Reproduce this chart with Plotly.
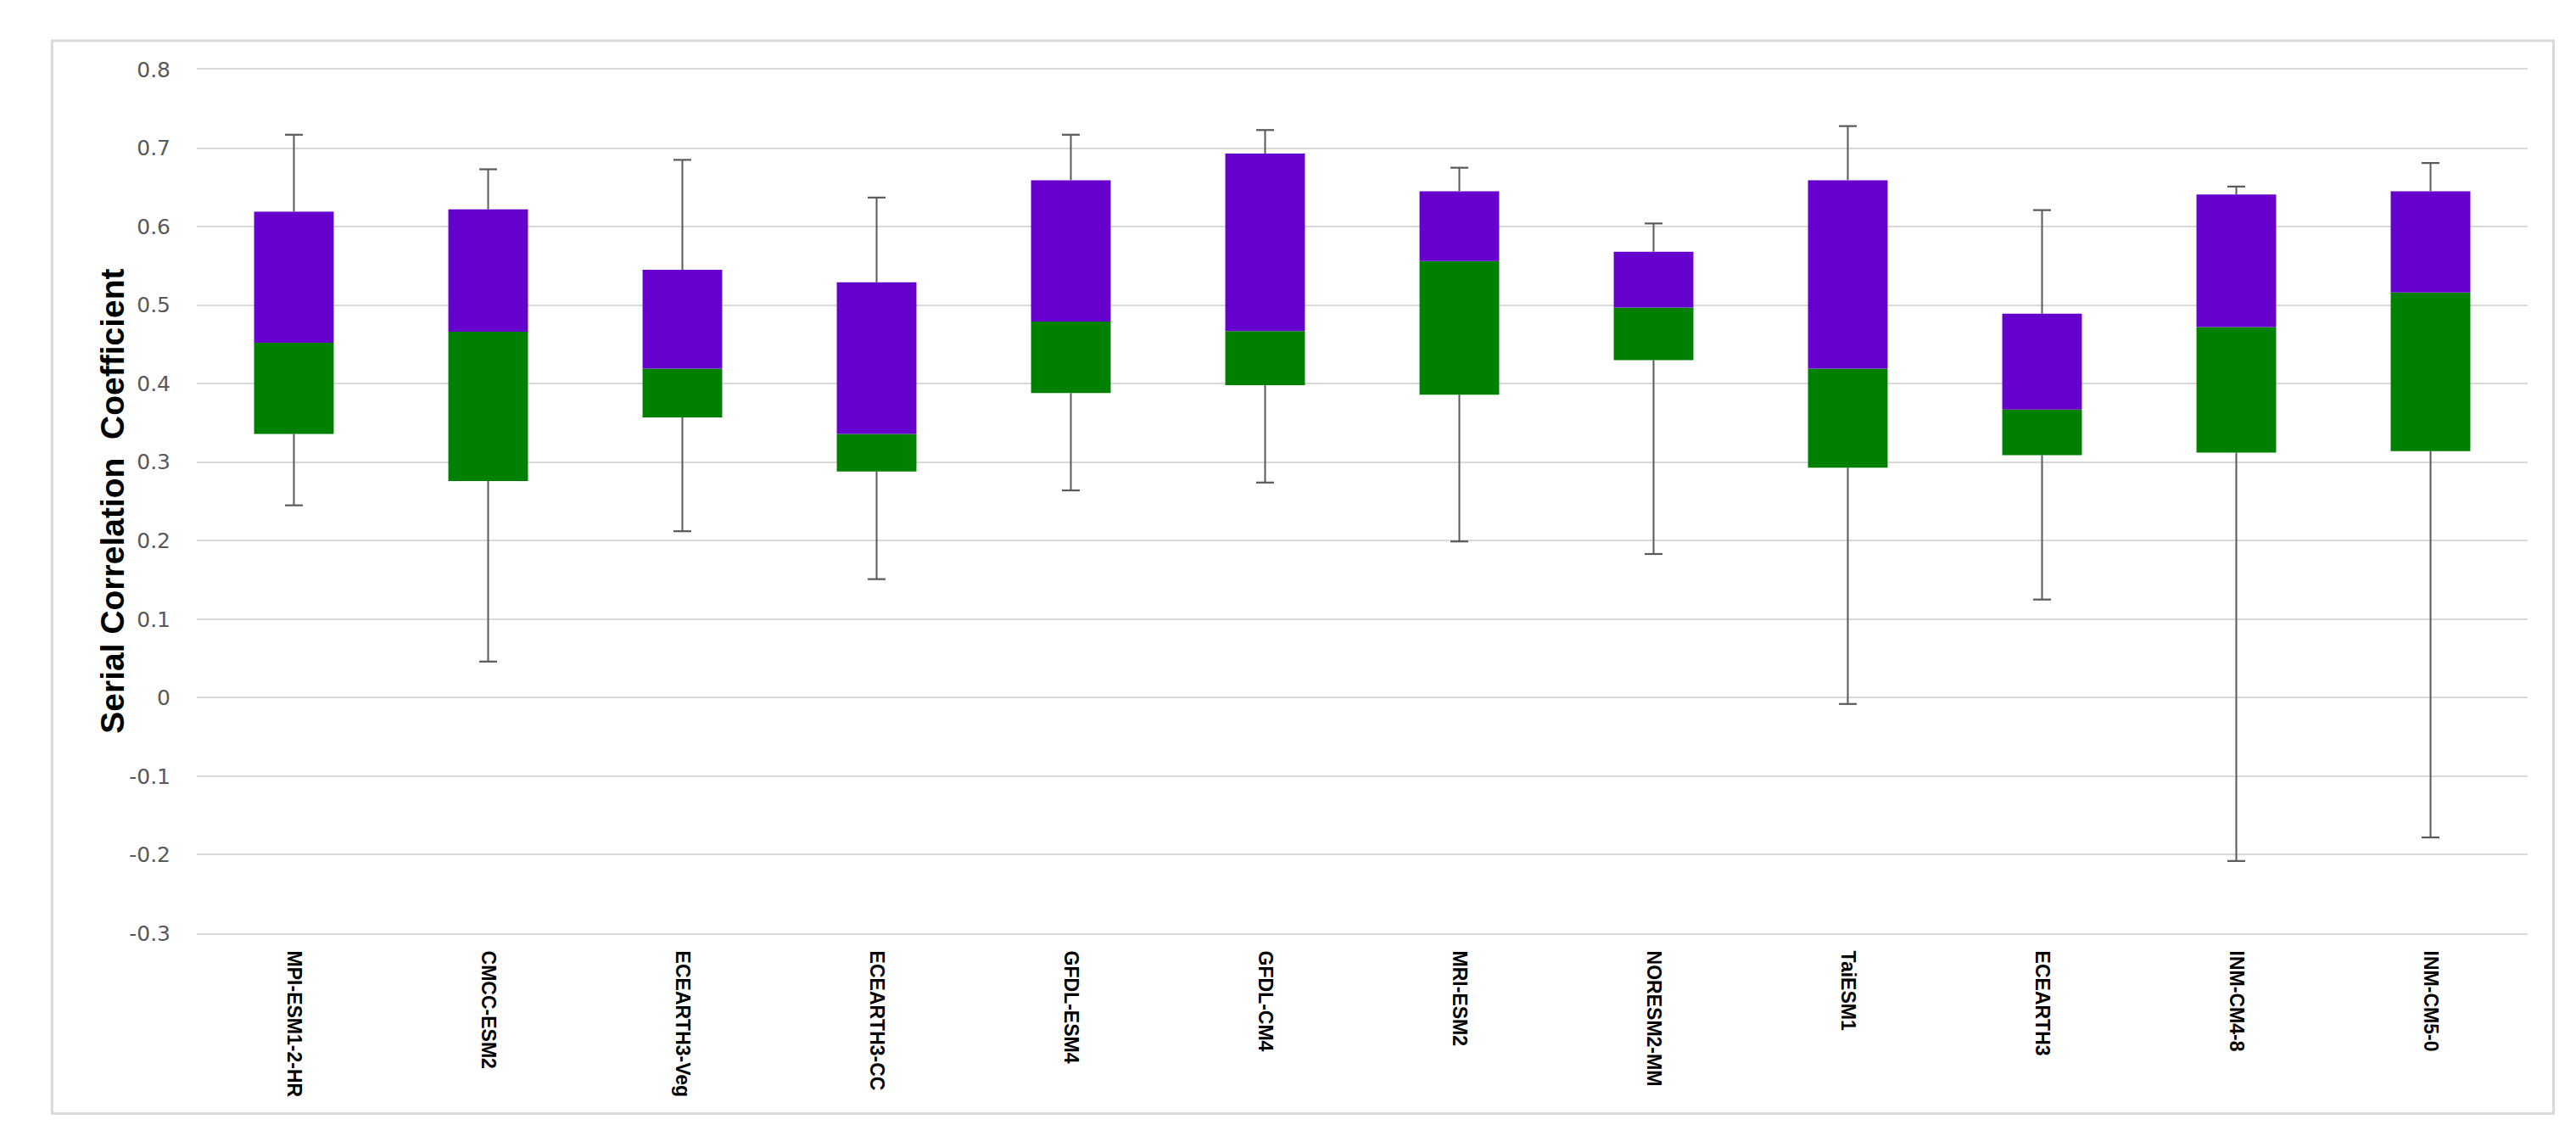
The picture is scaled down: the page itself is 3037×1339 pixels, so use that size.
import plotly.graph_objects as go

models = ["MPI-ESM1-2-HR", "CMCC-ESM2", "ECEARTH3-Veg", "ECEARTH3-CC", "GFDL-ESM4",
          "GFDL-CM4", "MRI-ESM2", "NORESM2-MM", "TaiESM1", "ECEARTH3", "INM-CM4-8", "INM-CM5-0"]
minimum = [0.245, 0.046, 0.212, 0.151, 0.264, 0.274, 0.199, 0.183, -0.008, 0.125, -0.208, -0.178]
q1 = [0.336, 0.276, 0.357, 0.288, 0.388, 0.398, 0.386, 0.430, 0.293, 0.309, 0.312, 0.314]
median = [0.452, 0.466, 0.419, 0.336, 0.479, 0.467, 0.556, 0.497, 0.419, 0.367, 0.472, 0.516]
q3 = [0.619, 0.622, 0.545, 0.529, 0.659, 0.693, 0.645, 0.568, 0.659, 0.489, 0.641, 0.645]
maximum = [0.717, 0.673, 0.685, 0.637, 0.717, 0.723, 0.675, 0.604, 0.728, 0.621, 0.651, 0.681]
y_ticks = [-0.3, -0.2, -0.1, 0, 0.1, 0.2, 0.3, 0.4, 0.5, 0.6, 0.7, 0.8]
y_tick_text = ["-0.3", "-0.2", "-0.1", "0", "0.1", "0.2", "0.3", "0.4", "0.5", "0.6", "0.7", "0.8"]

GREEN = "#008000"
PURPLE = "#6600CC"
WHISKER = "#595959"
GRID = "#d9d9d9"

fig = go.Figure()

fig.add_trace(go.Bar(
    x=models, y=[m - a for m, a in zip(median, q1)], base=q1,
    marker=dict(color=GREEN, line=dict(width=0)), width=0.41,
    hoverinfo="skip", showlegend=False))
fig.add_trace(go.Bar(
    x=models, y=[b - m for b, m in zip(q3, median)], base=median,
    marker=dict(color=PURPLE, line=dict(width=0)), width=0.41,
    hoverinfo="skip", showlegend=False))

wx, wy = [], []
for c, lo, a, b, hi in zip(models, minimum, q1, q3, maximum):
    wx += [c, c, None, c, c, None]
    wy += [lo, a, None, b, hi, None]
fig.add_trace(go.Scatter(x=wx, y=wy, mode="lines",
                         line=dict(color=WHISKER, width=2),
                         hoverinfo="skip", showlegend=False))
fig.add_trace(go.Scatter(x=models + models, y=minimum + maximum, mode="markers",
                         marker=dict(symbol="line-ew", size=15,
                                     line=dict(color=WHISKER, width=2.2)),
                         hoverinfo="skip", showlegend=False))

fig.update_layout(
    width=3037, height=1339,
    margin=dict(l=224, r=65, t=74, b=247),
    paper_bgcolor="white", plot_bgcolor="white",
    barmode="overlay",
    xaxis=dict(type="category", range=[-0.5, len(models) - 0.5],
               showgrid=False, zeroline=False,
               showline=True, mirror=True, linecolor=GRID, linewidth=2,
               tickangle=90, ticks="",
               ticklabelstandoff=14,
               tickfont=dict(family="Liberation Sans, Arial, sans-serif", size=23,
                             color="black", weight="bold")),
    yaxis=dict(range=[-0.3, 0.8], tickvals=y_ticks, ticktext=y_tick_text,
               showgrid=True, gridcolor=GRID, gridwidth=2,
               zeroline=False, showline=False, ticks="",
               ticklabelstandoff=30,
               tickfont=dict(family="DejaVu Sans, sans-serif", size=25, color="#595959")),
    annotations=[dict(text="<b>Serial Correlation  Coefficient</b>",
                      xref="paper", yref="paper", x=-0.0365, y=0.5,
                      xanchor="center", yanchor="middle", textangle=-90,
                      showarrow=False,
                      font=dict(family="Liberation Sans, Arial, sans-serif", size=39,
                                color="black"))],
    shapes=[dict(type="rect", xref="paper", yref="paper",
                 x0=-0.0621, x1=1.0111, y0=-0.2088, y1=1.0334,
                 line=dict(color=GRID, width=3), fillcolor="rgba(0,0,0,0)",
                 layer="below")],
)

fig.write_html("out.html")
